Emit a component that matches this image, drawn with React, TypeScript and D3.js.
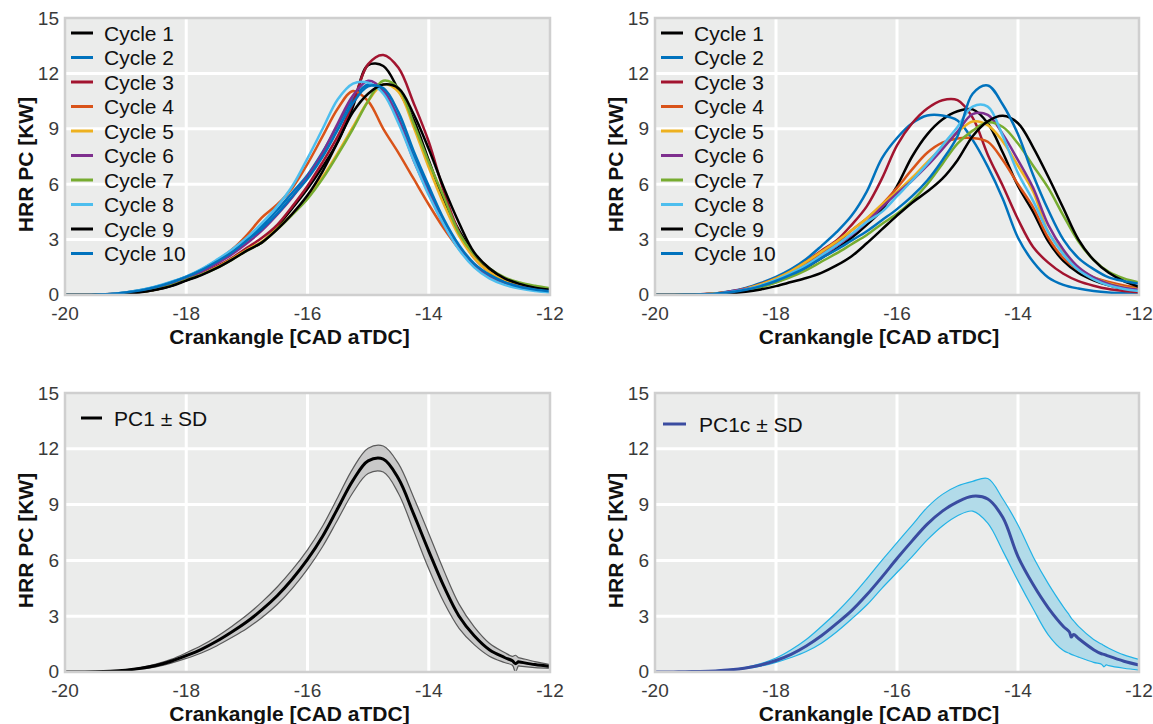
import React from 'react';
import * as d3 from 'd3';

// ---------- shared axes ----------
const CAD = [-20, -19.75, -19.5, -19.25, -19, -18.75, -18.5, -18.25, -18, -17.75, -17.5, -17.25, -17, -16.75, -16.5, -16.25, -16, -15.75, -15.5, -15.25, -15, -14.75, -14.5, -14.25, -14, -13.75, -13.5, -13.25, -13, -12.75, -12.5, -12.25, -12];
const X_TICKS = [-20, -18, -16, -14, -12];
const Y_TICKS = [0, 3, 6, 9, 12, 15];
const X_TITLE = 'Crankangle [CAD aTDC]';
const Y_TITLE = 'HRR PC [KW]';
const CYCLE_NAMES = ['Cycle 1', 'Cycle 2', 'Cycle 3', 'Cycle 4', 'Cycle 5', 'Cycle 6', 'Cycle 7', 'Cycle 8', 'Cycle 9', 'Cycle 10'];
const CYCLE_COLORS = ['#000000', '#0072BD', '#A2142F', '#D95319', '#EDB120', '#7E2F8E', '#77AC30', '#4DBEEE', '#000000', '#0072BD'];

// ---------- top-left: PC1 cycles ----------
const TL_C1 = [0, 0, 0.01, 0.03, 0.08, 0.17, 0.3, 0.5, 0.8, 1.12, 1.5, 1.95, 2.45, 2.85, 3.7, 4.7, 5.75, 6.95, 8.3, 10.2, 12.45, 12.4, 11.1, 9.5, 7.3, 5.1, 3.5, 2.2, 1.4, 0.88, 0.58, 0.4, 0.27];
const TL_C2 = [0, 0, 0.02, 0.06, 0.14, 0.27, 0.45, 0.7, 1.0, 1.38, 1.85, 2.4, 3.05, 3.75, 4.6, 5.55, 6.5, 7.75, 9.2, 10.6, 11.4, 11.0, 9.6, 7.5, 5.7, 3.9, 2.55, 1.6, 1.0, 0.65, 0.42, 0.28, 0.18];
const TL_C3 = [0, 0, 0.01, 0.03, 0.08, 0.17, 0.3, 0.52, 0.82, 1.15, 1.55, 2.0, 2.55, 3.1, 3.8, 4.8, 5.9, 7.2, 8.6, 10.4, 12.5, 13.0, 12.3, 10.4, 8.3, 5.6, 3.4, 2.0, 1.25, 0.8, 0.52, 0.34, 0.22];
const TL_C4 = [0, 0, 0.02, 0.05, 0.12, 0.24, 0.42, 0.66, 0.95, 1.35, 1.85, 2.45, 3.25, 4.2, 4.9, 5.8, 7.1, 8.6, 10.1, 11.05, 10.5, 9.0, 7.7, 6.3, 4.9, 3.6, 2.5, 1.65, 1.05, 0.68, 0.45, 0.3, 0.2];
const TL_C5 = [0, 0, 0.01, 0.03, 0.08, 0.17, 0.31, 0.53, 0.84, 1.13, 1.5, 1.95, 2.45, 2.9, 3.6, 4.4, 5.3, 6.4, 7.7, 9.1, 10.5, 11.4, 11.0, 9.1, 6.9, 4.9, 3.2, 2.0, 1.25, 0.8, 0.52, 0.35, 0.24];
const TL_C6 = [0, 0, 0.01, 0.04, 0.1, 0.2, 0.36, 0.6, 0.9, 1.25, 1.7, 2.2, 2.8, 3.5, 4.35, 5.3, 6.4, 7.7, 9.3, 10.8, 11.6, 11.1, 9.5, 7.3, 5.5, 3.8, 2.5, 1.6, 1.05, 0.68, 0.45, 0.3, 0.2];
const TL_C7 = [0, 0, 0.01, 0.03, 0.08, 0.17, 0.3, 0.52, 0.82, 1.1, 1.45, 1.9, 2.4, 2.85, 3.55, 4.35, 5.2, 6.3, 7.6, 9.0, 10.5, 11.6, 11.2, 9.3, 7.2, 5.3, 3.35, 2.2, 1.45, 0.95, 0.68, 0.5, 0.36];
const TL_C8 = [0, 0, 0.02, 0.06, 0.14, 0.27, 0.46, 0.72, 1.0, 1.4, 1.9, 2.45, 3.1, 3.9, 4.8, 5.9, 7.4, 9.0, 10.6, 11.45, 11.5, 10.9, 9.3, 7.3, 5.4, 3.8, 2.45, 1.5, 0.9, 0.55, 0.35, 0.22, 0.14];
const TL_C9 = [0, 0, 0.01, 0.03, 0.07, 0.15, 0.28, 0.48, 0.78, 1.08, 1.45, 1.9, 2.4, 2.85, 3.55, 4.4, 5.4, 6.7, 8.3, 9.9, 10.9, 11.4, 11.2, 9.8, 7.9, 5.8, 3.9, 2.3, 1.45, 0.9, 0.6, 0.4, 0.28];
const TL_C10 = [0, 0, 0.02, 0.05, 0.13, 0.25, 0.43, 0.68, 0.98, 1.35, 1.8, 2.3, 2.95, 3.6, 4.4, 5.35, 6.3, 7.5, 8.95, 10.4, 11.3, 11.2, 9.9, 7.8, 5.9, 4.1, 2.7, 1.7, 1.1, 0.7, 0.45, 0.3, 0.2];

// ---------- top-right: PC1c cycles ----------
const TR_C1 = [0, 0, 0.01, 0.03, 0.07, 0.15, 0.28, 0.48, 0.75, 1.08, 1.5, 2.0, 2.5, 3.1, 3.8, 4.6, 5.9, 7.5, 8.7, 9.5, 9.95, 10.05, 9.3, 7.7, 5.9, 4.5, 2.9, 1.85, 1.2, 0.8, 0.52, 0.34, 0.23];
const TR_C2 = [0, 0, 0.02, 0.04, 0.08, 0.2, 0.38, 0.65, 0.98, 1.4, 1.95, 2.65, 3.4, 4.3, 5.6, 7.4, 8.5, 9.3, 9.72, 9.72, 9.45, 8.4, 6.95, 5.2, 3.1, 1.8, 0.95, 0.55, 0.35, 0.22, 0.14, 0.1, 0.08];
const TR_C3 = [0, 0, 0.01, 0.04, 0.08, 0.18, 0.35, 0.6, 0.9, 1.3, 1.8, 2.4, 2.95, 3.8, 4.8, 6.3, 8.1, 9.3, 10.1, 10.55, 10.55, 9.6, 7.6, 5.9, 4.1, 2.6, 1.75, 1.15, 0.75, 0.5, 0.32, 0.22, 0.15];
const TR_C4 = [0, 0, 0.01, 0.03, 0.08, 0.17, 0.32, 0.55, 0.85, 1.22, 1.7, 2.25, 2.8, 3.5, 4.15, 4.9, 5.8, 6.8, 7.7, 8.25, 8.48, 8.5, 8.3, 7.3, 6.0, 4.75, 3.1, 2.0, 1.35, 0.95, 0.7, 0.52, 0.4];
const TR_C5 = [0, 0, 0.01, 0.03, 0.08, 0.18, 0.34, 0.58, 0.9, 1.3, 1.8, 2.35, 2.9, 3.5, 4.15, 4.9, 5.6, 6.35, 7.2, 8.0, 8.8, 9.4, 9.2, 8.3, 7.0, 5.6, 3.4, 2.3, 1.45, 0.95, 0.62, 0.42, 0.3];
const TR_C6 = [0, 0, 0.01, 0.02, 0.05, 0.2, 0.32, 0.48, 0.7, 1.05, 1.5, 2.05, 2.65, 3.25, 3.95, 4.75, 5.5, 6.2, 7.0, 7.9, 8.85, 9.8, 9.75, 8.7, 7.3, 5.8, 3.8, 2.45, 1.5, 0.95, 0.6, 0.4, 0.28];
const TR_C7 = [0, 0, 0.01, 0.02, 0.05, 0.12, 0.24, 0.42, 0.68, 0.98, 1.35, 1.8, 2.25, 2.75, 3.25, 3.85, 4.4, 5.1, 6.0, 7.1, 8.2, 8.9, 9.35, 9.1, 8.2, 7.0, 5.8, 4.3, 2.9, 1.9, 1.25, 0.9, 0.68];
const TR_C8 = [0, 0, 0.01, 0.03, 0.07, 0.16, 0.3, 0.52, 0.82, 1.18, 1.62, 2.15, 2.7, 3.3, 3.95, 4.5, 5.35, 6.2, 7.1, 8.1, 9.1, 10.2, 10.2, 8.6, 6.6, 5.1, 3.4, 2.2, 1.35, 0.85, 0.52, 0.33, 0.22];
const TR_C9 = [0, 0, 0.01, 0.02, 0.04, 0.09, 0.17, 0.3, 0.48, 0.7, 0.92, 1.2, 1.6, 2.1, 2.8, 3.55, 4.3, 5.0, 5.6, 6.3, 7.3, 8.6, 9.4, 9.7, 9.3, 8.0, 6.4, 4.7, 3.0, 1.9, 1.2, 0.75, 0.45];
const TR_C10 = [0, 0, 0.01, 0.03, 0.07, 0.15, 0.28, 0.48, 0.76, 1.1, 1.5, 2.0, 2.45, 2.95, 3.45, 4.05, 4.65, 5.35, 6.2, 7.3, 8.6, 10.9, 11.35, 10.3, 8.7, 6.5, 4.6, 3.0, 2.0, 1.4, 0.95, 0.75, 0.62];

// ---------- bottom-left: PC1 mean ± SD ----------
const PC1_X = [-20, -19.75, -19.5, -19.25, -19, -18.75, -18.5, -18.25, -18, -17.75, -17.5, -17.25, -17, -16.75, -16.5, -16.25, -16, -15.75, -15.5, -15.25, -15, -14.75, -14.5, -14.25, -14, -13.75, -13.5, -13.25, -13, -12.75, -12.62, -12.57, -12.52, -12.5, -12.25, -12];
const PC1_MEAN = [0, 0, 0.01, 0.04, 0.1, 0.2, 0.35, 0.58, 0.88, 1.22, 1.65, 2.15, 2.7, 3.35, 4.1, 5.0, 6.05, 7.3, 8.8, 10.3, 11.35, 11.45, 10.4, 8.5, 6.5, 4.6, 3.0, 1.95, 1.2, 0.78, 0.6, 0.45, 0.55, 0.54, 0.4, 0.3];
const PC1_SD = [0, 0, 0.005, 0.01, 0.02, 0.04, 0.07, 0.1, 0.15, 0.2, 0.25, 0.3, 0.36, 0.42, 0.47, 0.5, 0.52, 0.55, 0.6, 0.65, 0.68, 0.7, 0.8, 0.9, 0.95, 0.85, 0.65, 0.48, 0.35, 0.27, 0.24, 0.45, 0.22, 0.22, 0.16, 0.1];

// ---------- bottom-right: PC1c mean ± SD ----------
const PC1C_X = [-20, -19.75, -19.5, -19.25, -19, -18.75, -18.5, -18.25, -18, -17.75, -17.5, -17.25, -17, -16.75, -16.5, -16.25, -16, -15.75, -15.5, -15.25, -15, -14.75, -14.5, -14.25, -14, -13.75, -13.5, -13.25, -13.15, -13.12, -13.08, -13, -12.75, -12.62, -12.58, -12.54, -12.5, -12.25, -12];
const PC1C_MEAN = [0, 0, 0.02, 0.03, 0.06, 0.12, 0.22, 0.38, 0.62, 0.95, 1.4, 1.95, 2.6, 3.3, 4.15, 5.1, 6.1, 7.05, 7.95, 8.65, 9.15, 9.45, 9.3, 8.3, 6.2, 4.7, 3.45, 2.45, 2.15, 1.88, 2.02, 1.8, 1.2, 0.98, 0.95, 0.9, 0.85, 0.58, 0.38];
const PC1C_UPPER = [0, 0, 0.02, 0.04, 0.07, 0.14, 0.25, 0.45, 0.75, 1.2, 1.75, 2.45, 3.2, 4.05, 5.0, 6.0, 6.95, 7.9, 8.85, 9.55, 10.0, 10.25, 10.4, 9.3, 7.9, 6.2, 4.75, 3.5, 3.05, 2.9, 2.75, 2.45, 1.75, 1.5, 1.42, 1.35, 1.28, 0.92, 0.68];
const PC1C_LOWER = [0, 0, 0.02, 0.03, 0.05, 0.1, 0.19, 0.32, 0.52, 0.78, 1.1, 1.55, 2.15, 2.85, 3.6, 4.5, 5.35, 6.2, 7.1, 7.85, 8.4, 8.65, 8.0, 6.5, 4.9, 3.4, 2.0, 1.15, 1.0, 0.95, 0.9, 0.8, 0.52, 0.42, 0.28, 0.38, 0.34, 0.2, 0.1];

const FONT = "'Liberation Sans', Arial, Helvetica, sans-serif";

type Box = { id: string; left: number; top: number; width: number; height: number };

const BOXES: Box[] = [
  { id: 'tl', left: 65, top: 18, width: 485, height: 277 },
  { id: 'tr', left: 655, top: 18, width: 484, height: 277 },
  { id: 'bl', left: 65, top: 393, width: 485, height: 279 },
  { id: 'br', left: 655, top: 393, width: 484, height: 279 },
];

function scalesFor(b: Box) {
  const x = d3.scaleLinear().domain([-20, -12]).range([b.left, b.left + b.width]);
  const y = d3.scaleLinear().domain([0, 15]).range([b.top + b.height, b.top]);
  return { x, y };
}

function Frame({ b, children }: { b: Box; children?: React.ReactNode }) {
  const { x, y } = scalesFor(b);
  return (
    <g>
      <rect x={b.left} y={b.top} width={b.width} height={b.height} fill="#ebeceb" />
      {Y_TICKS.filter((t) => t > 0 && t < 15).map((t) => (
        <line key={'gy' + t} x1={b.left} x2={b.left + b.width} y1={y(t)} y2={y(t)} stroke="#ffffff" strokeWidth={3} />
      ))}
      {X_TICKS.filter((t) => t > -20 && t < -12).map((t) => (
        <line key={'gx' + t} x1={x(t)} x2={x(t)} y1={b.top} y2={b.top + b.height} stroke="#ffffff" strokeWidth={3} />
      ))}
      <clipPath id={'clip-' + b.id}>
        <rect x={b.left} y={b.top} width={b.width} height={b.height} />
      </clipPath>
      <g clipPath={`url(#clip-${b.id})`}>{children}</g>
      <rect x={b.left} y={b.top} width={b.width} height={b.height} fill="none" stroke="#cfcfcf" strokeWidth={2.5} />
      {Y_TICKS.map((t) => (
        <text key={'ty' + t} x={b.left - 6} y={y(t) - (t === 0 ? 1 : 0)} textAnchor="end" dominantBaseline="central" fontSize={19} fill="#3a3a3a">
          {t}
        </text>
      ))}
      {X_TICKS.map((t) => (
        <text key={'tx' + t} x={x(t)} y={b.top + b.height + 18} textAnchor="middle" dominantBaseline="central" fontSize={19} fill="#3a3a3a">
          {t}
        </text>
      ))}
      <text x={b.left + b.width / 2 - 18} y={b.top + b.height + 41} textAnchor="middle" dominantBaseline="central" fontSize={21} fontWeight="bold" fill="#111">
        {X_TITLE}
      </text>
      <text
        transform={`translate(${b.left - 40},${b.top + b.height / 2 + 8}) rotate(-90)`}
        textAnchor="middle"
        dominantBaseline="central"
        fontSize={21}
        fontWeight="bold"
        fill="#111"
      >
        {Y_TITLE}
      </text>
    </g>
  );
}

function CyclePanel({ b, series }: { b: Box; series: number[][] }) {
  const { x, y } = scalesFor(b);
  const line = d3
    .line<number>()
    .x((_, i) => x(CAD[i]))
    .y((d) => y(d))
    .curve(d3.curveCatmullRom.alpha(0.5));
  return (
    <g>
      <Frame b={b}>
        {series.map((s, i) => (
          <path key={i} d={line(s) || ''} fill="none" stroke={CYCLE_COLORS[i]} strokeWidth={2.5} strokeLinejoin="round" />
        ))}
      </Frame>
      {CYCLE_NAMES.map((name, i) => {
        const cy = b.top + 15 + i * 24.5;
        return (
          <g key={name}>
            <line x1={b.left + 6} x2={b.left + 28} y1={cy} y2={cy} stroke={CYCLE_COLORS[i]} strokeWidth={3} />
            <text x={b.left + 39} y={cy} dominantBaseline="central" fontSize={21} fill="#111">
              {name}
            </text>
          </g>
        );
      })}
    </g>
  );
}

function BandPanel({
  b, xs, mean, lower, upper, meanColor, fill, edge, label, legendX0, legendX1, textX, legendY,
}: {
  b: Box; xs: number[]; mean: number[]; lower: number[]; upper: number[]; meanColor: string; fill: string; edge: string;
  label: string; legendX0: number; legendX1: number; textX: number; legendY: number;
}) {
  const { x, y } = scalesFor(b);
  const curve = d3.curveCatmullRom.alpha(0.5);
  const area = d3
    .area<number>()
    .x((_, i) => x(xs[i]))
    .y0((_, i) => y(lower[i]))
    .y1((_, i) => y(upper[i]))
    .curve(curve);
  const mk = (arr: number[]) =>
    d3
      .line<number>()
      .x((_, i) => x(xs[i]))
      .y((d) => y(d))
      .curve(curve)(arr) || '';
  return (
    <g>
      <Frame b={b}>
        <path d={area(mean) || ''} fill={fill} stroke="none" />
        <path d={mk(upper)} fill="none" stroke={edge} strokeWidth={1.2} />
        <path d={mk(lower)} fill="none" stroke={edge} strokeWidth={1.2} />
        <path d={mk(mean)} fill="none" stroke={meanColor} strokeWidth={3} strokeLinejoin="round" />
      </Frame>
      <line x1={b.left + legendX0} x2={b.left + legendX1} y1={b.top + legendY} y2={b.top + legendY} stroke={meanColor} strokeWidth={3} />
      <text x={b.left + textX} y={b.top + legendY} dominantBaseline="central" fontSize={21} fill="#111">
        {label}
      </text>
    </g>
  );
}

export default function App() {
  const tl = [TL_C1, TL_C2, TL_C3, TL_C4, TL_C5, TL_C6, TL_C7, TL_C8, TL_C9, TL_C10];
  const tr = [TR_C1, TR_C2, TR_C3, TR_C4, TR_C5, TR_C6, TR_C7, TR_C8, TR_C9, TR_C10];
  const pc1Upper = PC1_MEAN.map((m, i) => m + PC1_SD[i]);
  const pc1Lower = PC1_MEAN.map((m, i) => Math.max(0, m - PC1_SD[i]));
  return (
    <svg
      width={1153}
      height={724}
      viewBox="0 0 1153 724"
      style={{ position: 'absolute', left: 0, top: 0, background: '#ffffff' }}
      fontFamily={FONT}
    >
      <CyclePanel b={BOXES[0]} series={tl} />
      <CyclePanel b={BOXES[1]} series={tr} />
      <BandPanel
        b={BOXES[2]} xs={PC1_X} mean={PC1_MEAN} lower={pc1Lower} upper={pc1Upper}
        meanColor="#000000" fill="#c9c9c9" edge="#5a5a5a" label="PC1 ± SD"
        legendX0={16} legendX1={37} textX={49} legendY={25}
      />
      <BandPanel
        b={BOXES[3]} xs={PC1C_X} mean={PC1C_MEAN} lower={PC1C_LOWER} upper={PC1C_UPPER}
        meanColor="#3a4ca0" fill="#b2dbe9" edge="#22b2e6" label="PC1c ± SD"
        legendX0={8} legendX1={31} textX={44} legendY={31}
      />
    </svg>
  );
}
